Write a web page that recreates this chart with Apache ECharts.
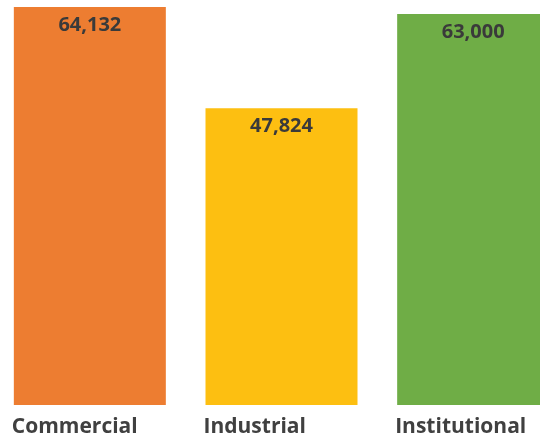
<!DOCTYPE html>
<html>
<head>
<meta charset="utf-8">
<script src="https://cdn.jsdelivr.net/npm/echarts@6/dist/echarts.min.js"></script>
<style>
html, body { margin: 0; padding: 0; background: #fff; }
#chart { width: 540px; height: 437px; }
</style>
</head>
<body>
<div id="chart"></div>
<script>
var categories = ['Commercial', 'Industrial', 'Institutional'];
var values = [64132, 47824, 63000];
var colors = ['#ED7D31', '#FDBF11', '#6FAD46'];

var myChart = echarts.init(document.getElementById('chart'));

var option = {
	animation: false,
	grid: {
		left: -6,
		top: 0,
		width: 575,
		bottom: 32,
		containLabel: false,
		outerBoundsMode: 'none'
	},
	xAxis: {
		type: 'category',
		data: categories,
		axisLine: { show: false },
		axisTick: { show: false },
		axisLabel: {
			interval: 0,
			margin: 12,
			align: 'left',
			padding: [0, 0, 0, -78],
			color: '#404040',
			fontFamily: 'Open Sans',
			fontWeight: 'bold',
			fontSize: 21
		}
	},
	yAxis: {
		type: 'value',
		min: 0,
		max: 65260,
		show: false,
		splitLine: { show: false }
	},
	series: [{
		type: 'bar',
		barWidth: 152,
		data: values.map(function(v, i) {
			return { value: v, itemStyle: { color: colors[i] } };
		}),
		label: {
			show: true,
			position: 'insideTop',
			distance: 8,
			color: '#3A3A3A',
			fontFamily: 'Open Sans',
			fontWeight: 'bold',
			fontSize: 20,
			formatter: function(p) {
				return p.value.toLocaleString('en-US');
			}
		}
	}]
};

myChart.setOption(option);
</script>
</body>
</html>
